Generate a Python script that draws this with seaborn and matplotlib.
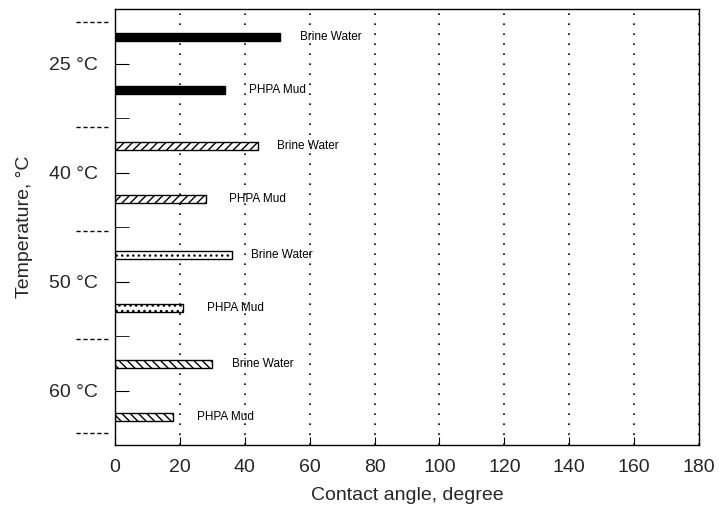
import matplotlib
matplotlib.use('Agg')
from matplotlib import pyplot as plt
from matplotlib.ticker import MultipleLocator
import pandas as pd
import seaborn as sns

# values
temperatures = ['25 °C', '40 °C', '50 °C', '60 °C']
fluids = ['Brine Water', 'PHPA Mud']
brine_angle = [51, 44, 36, 30]
phpa_angle = [34, 28, 21, 18]
x_ticks = [0, 20, 40, 60, 80, 100, 120, 140, 160, 180]

df = pd.DataFrame({
    'temp': temperatures * 2,
    'fluid': [fluids[0]] * 4 + [fluids[1]] * 4,
    'angle': brine_angle + phpa_angle,
})

sns.set_style('ticks')
plt.rcParams['font.family'] = ['Liberation Sans', 'DejaVu Sans']
plt.rcParams['hatch.linewidth'] = 1.0

fig = plt.figure(figsize=(7.19, 5.08), dpi=100)
ax = fig.add_axes([115 / 719, 1 - 445 / 508, 584 / 719, 436 / 508])

sns.barplot(data=df, x='angle', y='temp', hue='fluid', orient='h',
            order=temperatures, hue_order=fluids, width=0.96, gap=0.85,
            palette=['black', 'black'], legend=False, ax=ax)

# each temperature has its own fill pattern
fills = [('black', ''), ('white', '////'), ('white', '...'), ('white', '\\\\\\\\')]
for container in ax.containers:
    for bar, (fc, hatch) in zip(container, fills):
        bar.set_facecolor(fc)
        bar.set_edgecolor('black')
        bar.set_hatch(hatch)
        bar.set_linewidth(1.0)

for container, fluid, pad in zip(ax.containers, fluids, [14, 17]):
    ax.bar_label(container, labels=[fluid] * len(temperatures), padding=pad,
                 fontsize=8.5, color='black')

ax.set_xlim(0, 180)
ax.set_ylim(3.5, -0.5)
ax.set_xticks(x_ticks)
ax.yaxis.set_minor_locator(MultipleLocator(0.25))
ax.grid(axis='x', color='black', linestyle=(0, (1, 5)), linewidth=1.2)
ax.set_axisbelow(True)

ax.tick_params(axis='x', direction='in', length=6, labelsize=14, pad=10, color='black')
ax.tick_params(axis='y', which='both', direction='in', length=10, labelsize=14,
               pad=12, color='black')
for s in ax.spines.values():
    s.set_color('black')
    s.set_linewidth(1.0)

# dashed separators outside the left spine
for yy in [-0.38, 0.58, 1.54, 2.53, 3.39]:
    ax.plot([-0.067, -0.009], [yy, yy], transform=ax.get_yaxis_transform(),
            color='black', linestyle=(0, (3, 2)), linewidth=1.0, clip_on=False)

ax.set_xlabel('Contact angle, degree', fontsize=14, labelpad=8)
ax.set_ylabel('Temperature, °C', fontsize=14, labelpad=12)

fig.savefig('out.png', dpi=100)
